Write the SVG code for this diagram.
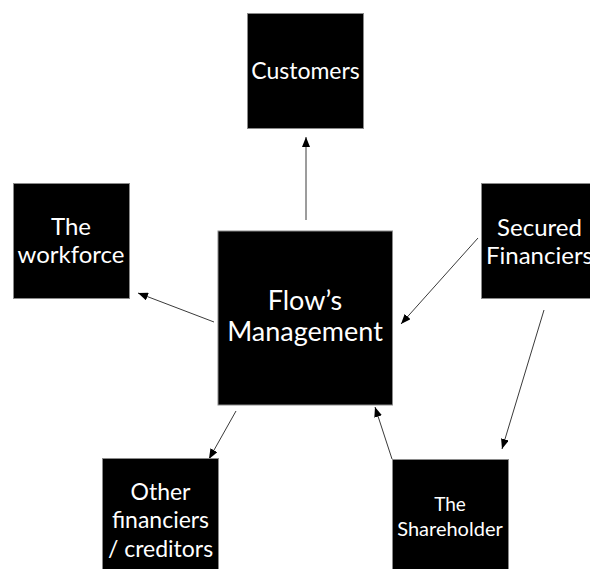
<svg xmlns="http://www.w3.org/2000/svg" width="590" height="569" viewBox="0 0 590 569">
  <style>
    .box { fill: #000000; stroke: #8a8a8a; stroke-width: 1; }
    .lbl { fill: #ffffff; font-family: Lato, "Open Sans", "Liberation Sans", sans-serif; text-anchor: middle; }
    .link { stroke: #3a3a3a; stroke-width: 1; fill: none; marker-end: url(#tip); }
  </style>
  <defs>
    <marker id="tip" viewBox="0 0 10 8" refX="10" refY="4" markerWidth="10" markerHeight="8" markerUnits="userSpaceOnUse" orient="auto">
      <path d="M0,0 L10,4 L0,8 Z" fill="#000000"/>
    </marker>
  </defs>
  <rect width="590" height="569" fill="#ffffff"/>

  <g id="connectors">
    <line class="link" x1="306" y1="220" x2="306" y2="137"/>
    <line class="link" x1="214" y1="322" x2="138" y2="293"/>
    <line class="link" x1="478" y1="238" x2="401" y2="324"/>
    <line class="link" x1="236" y1="411" x2="209" y2="459"/>
    <line class="link" x1="392" y1="459" x2="375" y2="407"/>
    <line class="link" x1="544" y1="310" x2="502" y2="449"/>
  </g>

  <g id="customers">
    <rect class="box" x="247.5" y="13.5" width="116" height="115"/>
    <text class="lbl" x="305.5" y="79" font-size="23">Customers</text>
  </g>

  <g id="workforce">
    <rect class="box" x="13.5" y="183.5" width="116" height="115"/>
    <text class="lbl" x="71" y="235" font-size="24">The</text>
    <text class="lbl" x="71" y="263" font-size="24">workforce</text>
  </g>

  <g id="management">
    <rect class="box" x="218" y="231" width="174.5" height="174"/>
    <text class="lbl" x="305" y="310" font-size="27">Flow’s</text>
    <text class="lbl" x="305" y="341" font-size="27">Management</text>
  </g>

  <g id="secured">
    <rect class="box" x="481.5" y="183.5" width="117" height="115"/>
    <text class="lbl" x="539.5" y="236" font-size="24">Secured</text>
    <text class="lbl" x="539.5" y="264" font-size="24">Financiers</text>
  </g>

  <g id="other">
    <rect class="box" x="102.5" y="458.5" width="116" height="115"/>
    <text class="lbl" x="160.5" y="500" font-size="23">Other</text>
    <text class="lbl" x="160.5" y="528" font-size="23">financiers</text>
    <text class="lbl" x="160.5" y="557" font-size="23">/ creditors</text>
  </g>

  <g id="shareholder">
    <rect class="box" x="392.5" y="459.5" width="116" height="115"/>
    <text class="lbl" x="450" y="511" font-size="19">The</text>
    <text class="lbl" x="450" y="536" font-size="20">Shareholder</text>
  </g>
</svg>
